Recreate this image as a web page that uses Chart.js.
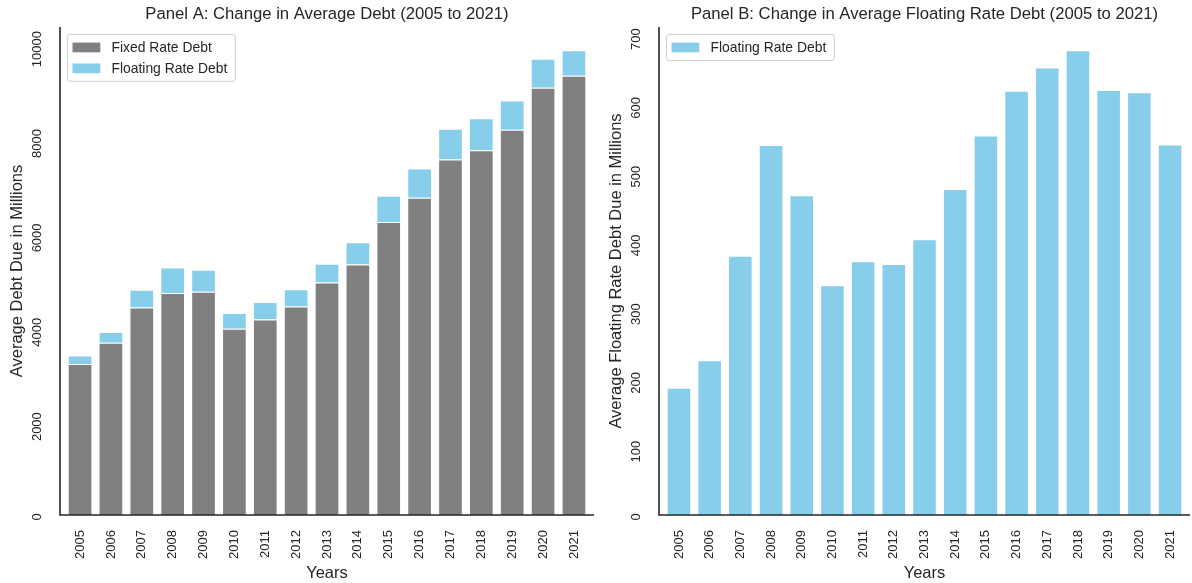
<!DOCTYPE html>
<html>
<head>
<meta charset="utf-8">
<title>Average Debt 2005–2021</title>
<script src="https://cdn.jsdelivr.net/npm/chart.js@4.4.1/dist/chart.umd.min.js"></script>
<style>
  html, body { margin: 0; padding: 0; background: #ffffff; }
  #wrap { position: relative; width: 1192px; height: 583px; overflow: hidden; }
  canvas { position: absolute; top: 0; }
  #panelA { left: 0; }
  #panelB { left: 600px; }
</style>
</head>
<body>
<div id="wrap">
  <canvas id="panelA" width="600" height="583"></canvas>
  <canvas id="panelB" width="592" height="583"></canvas>
</div>
<script>
// ---- data (millions) ----
const years = ['2005', '2006', '2007', '2008', '2009', '2010', '2011', '2012', '2013',
               '2014', '2015', '2016', '2017', '2018', '2019', '2020', '2021'];
const fixedRateDebt = [3198, 3653, 4399, 4705, 4733, 3945, 4143, 4420, 4925,
                       5309, 6212, 6724, 7534, 7733, 8166, 9055, 9311];
const floatingRateDebt = [185, 225, 377, 538, 465, 334, 369, 365, 401,
                          474, 552, 617, 651, 676, 618, 615, 539];
const debtTicks = [0, 2000, 4000, 6000, 8000, 10000];
const floatingTicks = [0, 100, 200, 300, 400, 500, 600, 700];

// ---- style ----
const INK = '#262626';
const FONT = '"Liberation Sans", Arial, Helvetica, sans-serif';
const GREY = '#808080';
const SKY = '#87CEEB';
const TICK_PX = 13;
const LABEL_PX = 16.5;
const TITLE_PX = 16.7;
const LEGEND_PX = 13.9;
const H = 583;
const AXIS_BOTTOM = 515;
const AXIS_TOP = 27;
const X_MARGIN = 0.15; // extra room beyond half a category on each side

// spines, axis texts, title and in-plot legend
const panelDecor = {
  id: 'panelDecor',
  afterDraw(chart, args, o) {
    const { ctx, chartArea: ca } = chart;
    const xs = chart.scales.x, ys = chart.scales.y;
    const cat = xs.getPixelForValue(1) - xs.getPixelForValue(0);
    const L = ca.left - X_MARGIN * cat;
    const R = ca.right + X_MARGIN * cat;
    ctx.save();

    // left and bottom spines
    ctx.strokeStyle = INK;
    ctx.lineWidth = 1.6;
    ctx.beginPath();
    ctx.moveTo(L, ca.top);
    ctx.lineTo(L, ca.bottom);
    ctx.lineTo(R, ca.bottom);
    ctx.stroke();

    // rotated y tick labels (hang slightly below the tick, like the rotated text layout)
    ctx.fillStyle = INK;
    ctx.font = `${TICK_PX}px ${FONT}`;
    ctx.textAlign = 'center';
    ctx.textBaseline = 'middle';
    ys.ticks.forEach(t => {
      const txt = String(t.value);
      const w = ctx.measureText(txt).width;
      const py = ys.getPixelForValue(t.value) + Math.min(6, 0.25 * w);
      ctx.save();
      ctx.translate(L - 23, py);
      ctx.rotate(-Math.PI / 2);
      ctx.fillText(txt, 0, 0);
      ctx.restore();
    });

    // axis titles
    ctx.font = `${LABEL_PX}px ${FONT}`;
    ctx.save();
    ctx.translate(L - 43, (ca.top + ca.bottom) / 2);
    ctx.rotate(-Math.PI / 2);
    ctx.fillText(o.yTitle, 0, 0);
    ctx.restore();
    ctx.textBaseline = 'alphabetic';
    ctx.fillText(o.xTitle, (L + R) / 2, 578);

    // panel title
    ctx.font = `${TITLE_PX}px ${FONT}`;
    ctx.fillText(o.title, (L + R) / 2, 19);

    // legend, upper left inside the axes
    const fs = LEGEND_PX;
    const items = chart.data.datasets.map(d => ({ label: d.label, color: d.backgroundColor }));
    ctx.font = `${fs}px ${FONT}`;
    const pad = 0.4 * fs, hl = 2 * fs, htp = 0.8 * fs, ls = 0.5 * fs, hh = 0.7 * fs;
    const textW = Math.max(...items.map(i => ctx.measureText(i.label).width));
    const bx = L + 0.5 * fs, by = ca.top + 0.5 * fs;
    const bw = pad + hl + htp + textW + pad + 2;
    const bh = 2 * pad + items.length * fs + (items.length - 1) * ls + 1;
    ctx.beginPath();
    ctx.roundRect(bx + 0.5, by + 0.5, bw, bh, 0.2 * fs);
    ctx.fillStyle = 'rgba(255,255,255,0.8)';
    ctx.fill();
    ctx.strokeStyle = '#cccccc';
    ctx.lineWidth = 1;
    ctx.stroke();
    items.forEach((it, i) => {
      const cy = by + pad + fs / 2 + i * (fs + ls) + 1;
      ctx.fillStyle = it.color;
      ctx.fillRect(bx + pad, cy - hh / 2, hl, hh);
      ctx.fillStyle = INK;
      ctx.textAlign = 'left';
      ctx.textBaseline = 'middle';
      ctx.fillText(it.label, bx + pad + hl + htp, cy + 0.5);
    });
    ctx.restore();
  }
};

function makePanel(canvasId, cfg) {
  const el = document.getElementById(canvasId);
  const width = el.width;
  const span = cfg.spineRight - cfg.spineLeft;
  const cat = span / (years.length + 2 * X_MARGIN);
  const areaLeft = cfg.spineLeft + X_MARGIN * cat;
  const areaRight = cfg.spineRight - X_MARGIN * cat;
  const totals = years.map((_, i) => cfg.datasets.reduce((s, d) => s + d.data[i], 0));
  const yTop = Math.max(...totals) * 1.05;

  return new Chart(el, {
    type: 'bar',
    data: {
      labels: years,
      datasets: cfg.datasets.map(d => ({
        label: d.label,
        data: d.data,
        backgroundColor: d.color,
        borderColor: 'rgba(255,255,255,0.9)',
        borderWidth: 1,
        barPercentage: 0.8,
        categoryPercentage: 1.0
      }))
    },
    options: {
      responsive: false,
      animation: false,
      devicePixelRatio: 1,
      layout: { padding: { left: 0, top: AXIS_TOP, right: width - areaRight, bottom: 0 } },
      plugins: {
        legend: { display: false },
        title: { display: false },
        tooltip: { enabled: false },
        panelDecor: { title: cfg.title, yTitle: cfg.yTitle, xTitle: 'Years' }
      },
      scales: {
        x: {
          stacked: true,
          offset: true,
          grid: { display: false, drawTicks: false },
          border: { display: false },
          ticks: {
            color: INK,
            font: { family: FONT, size: TICK_PX },
            minRotation: 90,
            maxRotation: 90,
            autoSkip: false,
            padding: 15
          },
          afterFit(s) {
            s.height = H - AXIS_BOTTOM;
            s.paddingLeft = 0;
            s.paddingRight = 0;
          }
        },
        y: {
          stacked: true,
          min: 0,
          max: yTop,
          grid: { display: false, drawTicks: false },
          border: { display: false },
          ticks: { display: false },
          afterBuildTicks(s) { s.ticks = cfg.ticks.map(v => ({ value: v })); },
          afterFit(s) {
            s.width = areaLeft;
            s.paddingTop = 0;
            s.paddingBottom = 0;
          }
        }
      }
    },
    plugins: [panelDecor]
  });
}

makePanel('panelA', {
  title: 'Panel A: Change in Average Debt (2005 to 2021)',
  yTitle: 'Average Debt Due in Millions',
  spineLeft: 60,
  spineRight: 594,
  ticks: debtTicks,
  datasets: [
    { label: 'Fixed Rate Debt', data: fixedRateDebt, color: GREY },
    { label: 'Floating Rate Debt', data: floatingRateDebt, color: SKY }
  ]
});

makePanel('panelB', {
  title: 'Panel B: Change in Average Floating Rate Debt (2005 to 2021)',
  yTitle: 'Average Floating Rate Debt Due in Millions',
  spineLeft: 59,
  spineRight: 590,
  ticks: floatingTicks,
  datasets: [
    { label: 'Floating Rate Debt', data: floatingRateDebt, color: SKY }
  ]
});
</script>
</body>
</html>
